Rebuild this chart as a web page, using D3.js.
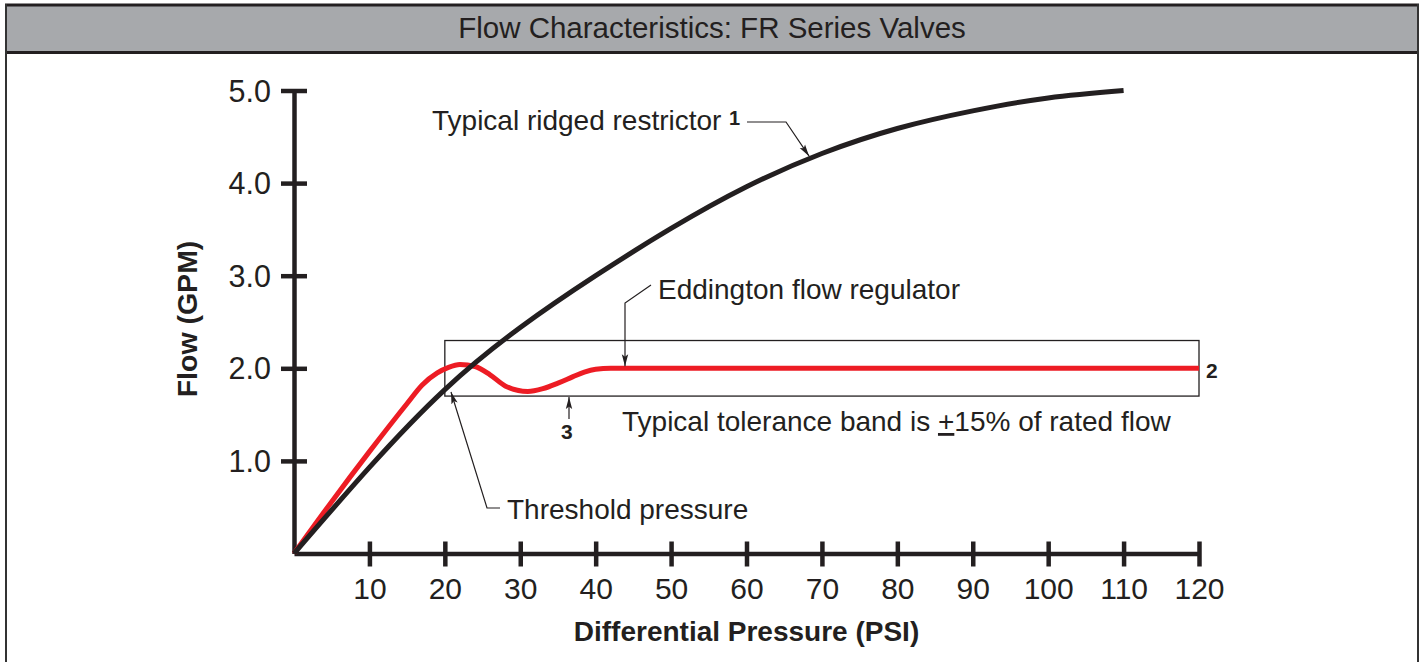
<!DOCTYPE html>
<html>
<head>
<meta charset="utf-8">
<script src="https://cdn.jsdelivr.net/npm/d3@7"></script>
<style>
  html, body { margin: 0; padding: 0; background: #fff; }
  svg { display: block; }
  text { font-family: "Liberation Sans", Arial, Helvetica, sans-serif; fill: #231f20; }
</style>
</head>
<body>
<svg id="chart" width="1422" height="662"></svg>
<script>
// ---------------- data ----------------
const chartTitle = "Flow Characteristics: FR Series Valves";
const xTicks = [10, 20, 30, 40, 50, 60, 70, 80, 90, 100, 110, 120];
const yTicks = [1, 2, 3, 4, 5];
const xLabel = "Differential Pressure (PSI)";
const yLabel = "Flow (GPM)";

// Typical ridged restrictor (black)
const restrictorPsi = [0, 10, 20, 30, 40, 50, 60, 70, 80, 90, 100, 110];
const restrictorGpm = [0, 0.93, 1.77, 2.44, 3.00, 3.51, 3.96, 4.32, 4.59, 4.78, 4.92, 5.00];

// Eddington flow regulator (red)
const regulatorPsi = [0, 5, 10, 15, 17, 19, 20.5, 22, 24, 26, 28, 31, 33, 35, 37, 38.5, 40, 42, 60, 80, 100, 120];
const regulatorGpm = [0, 0.56, 1.10, 1.62, 1.82, 1.95, 2.01, 2.04, 2.02, 1.93, 1.81, 1.75, 1.78, 1.84, 1.91, 1.96, 1.99, 2.00, 2.00, 2.00, 2.00, 2.00];

// tolerance band (+/-15% of rated 2.0 GPM)
const bandPsi = [20, 120];
const bandGpm = [1.7, 2.3];

// ---------------- layout ----------------
const svg = d3.select("#chart");
const W = 1422, H = 662;
const x = d3.scaleLinear().domain([0, 120]).range([294, 1199]);
const y = d3.scaleLinear().domain([0, 5]).range([553.5, 90.5]);
const ink = "#231f20";

// frame + title bar
svg.append("rect").attr("x", 6).attr("y", 5).attr("width", 1411).attr("height", 47)
  .attr("fill", "#a7a9ac");
svg.append("line").attr("x1", 5).attr("x2", 1419).attr("y1", 5).attr("y2", 5)
  .attr("stroke", ink).attr("stroke-width", 3);
svg.append("line").attr("x1", 5).attr("x2", 1419).attr("y1", 52.5).attr("y2", 52.5)
  .attr("stroke", ink).attr("stroke-width", 3);
svg.append("line").attr("x1", 6).attr("x2", 6).attr("y1", 4).attr("y2", H)
  .attr("stroke", "#333").attr("stroke-width", 2);
svg.append("line").attr("x1", 1418).attr("x2", 1418).attr("y1", 4).attr("y2", H)
  .attr("stroke", "#333").attr("stroke-width", 2);
svg.append("text").attr("x", 712).attr("y", 38).attr("text-anchor", "middle")
  .style("font-size", "29.5px").style("fill", "#231f20").text(chartTitle);

// defs: arrowhead
const defs = svg.append("defs");
defs.append("marker").attr("id", "arrow").attr("viewBox", "0 -5 12 10")
  .attr("refX", 12).attr("refY", 0).attr("markerWidth", 12).attr("markerHeight", 10)
  .attr("markerUnits", "userSpaceOnUse").attr("orient", "auto")
  .append("path").attr("d", "M0,-3.2 L12,0 L0,3.2 L2.5,0 Z").attr("fill", ink);

// tolerance band box
svg.append("rect")
  .attr("x", x(bandPsi[0])).attr("y", y(bandGpm[1]))
  .attr("width", x(bandPsi[1]) - x(bandPsi[0]))
  .attr("height", y(bandGpm[0]) - y(bandGpm[1]))
  .attr("fill", "none").attr("stroke", ink).attr("stroke-width", 1.3);

// axes
const yAxis = d3.axisLeft(y).tickValues(yTicks).tickSize(0).tickSizeOuter(0)
  .tickPadding(23).tickFormat(d3.format(".1f"));
const gy = svg.append("g").attr("transform", `translate(${x(0)},0)`).call(yAxis);
gy.select(".domain").attr("stroke", ink).attr("stroke-width", 4.5);
gy.selectAll(".tick line").attr("x1", -13).attr("x2", 13).attr("stroke", ink).attr("stroke-width", 4.5);
gy.selectAll(".tick text").style("font-size", "30.5px").style("fill", ink)
  .style("font-family", "'Liberation Sans', Arial, sans-serif").attr("dy", "0.35em");

const xAxis = d3.axisBottom(x).tickValues(xTicks).tickSize(0).tickSizeOuter(0);
const gx = svg.append("g").attr("transform", `translate(0,${y(0)})`).call(xAxis);
gx.select(".domain").attr("stroke", ink).attr("stroke-width", 4.5);
gx.selectAll(".tick line").attr("y1", -12).attr("y2", 13).attr("stroke", ink).attr("stroke-width", 4.5);
gx.selectAll(".tick text").attr("y", 45.5).attr("dy", 0).style("font-size", "30px").style("fill", ink)
  .style("font-family", "'Liberation Sans', Arial, sans-serif");

// axis titles
svg.append("text").attr("x", x(60)).attr("y", 641).attr("text-anchor", "middle")
  .style("font-size", "28px").style("font-weight", "bold").text(xLabel);
svg.append("text").attr("transform", `translate(197,319) rotate(-90)`).attr("text-anchor", "middle")
  .style("font-size", "28.5px").style("font-weight", "bold").text(yLabel);

// curves
const regLine = d3.line().x(d => x(d[0])).y(d => y(d[1])).curve(d3.curveMonotoneX);
const resLine = d3.line().x(d => x(d[0])).y(d => y(d[1])).curve(d3.curveNatural);
const regData = regulatorPsi.map((p, i) => [p, regulatorGpm[i]]);
const resData = restrictorPsi.map((p, i) => [p, restrictorGpm[i]]);
svg.append("path").datum(regData).attr("d", regLine).attr("fill", "none")
  .attr("stroke", "#ed1c24").attr("stroke-width", 5).attr("stroke-linejoin", "round");
svg.append("path").datum(resData).attr("d", resLine).attr("fill", "none")
  .attr("stroke", ink).attr("stroke-width", 5).attr("stroke-linejoin", "round");

// annotations
const ann = svg.append("g");
function leader(points) {
  ann.append("path").attr("d", d3.line()(points)).attr("fill", "none")
    .attr("stroke", ink).attr("stroke-width", 1.2).attr("marker-end", "url(#arrow)");
}
// 1: restrictor
ann.append("text").attr("x", 432).attr("y", 130).style("font-size", "28px").text("Typical ridged restrictor");
ann.append("text").attr("x", 729).attr("y", 125).style("font-size", "20px").style("font-weight", "bold").text("1");
leader([[747, 122], [786, 122], [x(68.3), y(4.28) - 1]]);

// Eddington flow regulator
ann.append("text").attr("x", 658).attr("y", 299).style("font-size", "28px").text("Eddington flow regulator");
leader([[651, 285], [625, 303], [625, y(2.0) - 2]]);

// 2
ann.append("text").attr("x", 1206).attr("y", 378).style("font-size", "21px").style("font-weight", "bold").text("2");

// 3
ann.append("text").attr("x", 561).attr("y", 439).style("font-size", "21px").style("font-weight", "bold").text("3");
leader([[569, 419], [569, y(bandGpm[0]) + 1]]);

// tolerance text
const tol = ann.append("text").attr("x", 622).attr("y", 431).style("font-size", "28px");
tol.append("tspan").text("Typical tolerance band is ");
tol.append("tspan").style("text-decoration", "underline").text("+");
tol.append("tspan").text("15% of rated flow");

// Threshold pressure
ann.append("text").attr("x", 507).attr("y", 519).style("font-size", "28px").text("Threshold pressure");
leader([[500, 508], [487, 508], [451, 392]]);
</script>
</body>
</html>
